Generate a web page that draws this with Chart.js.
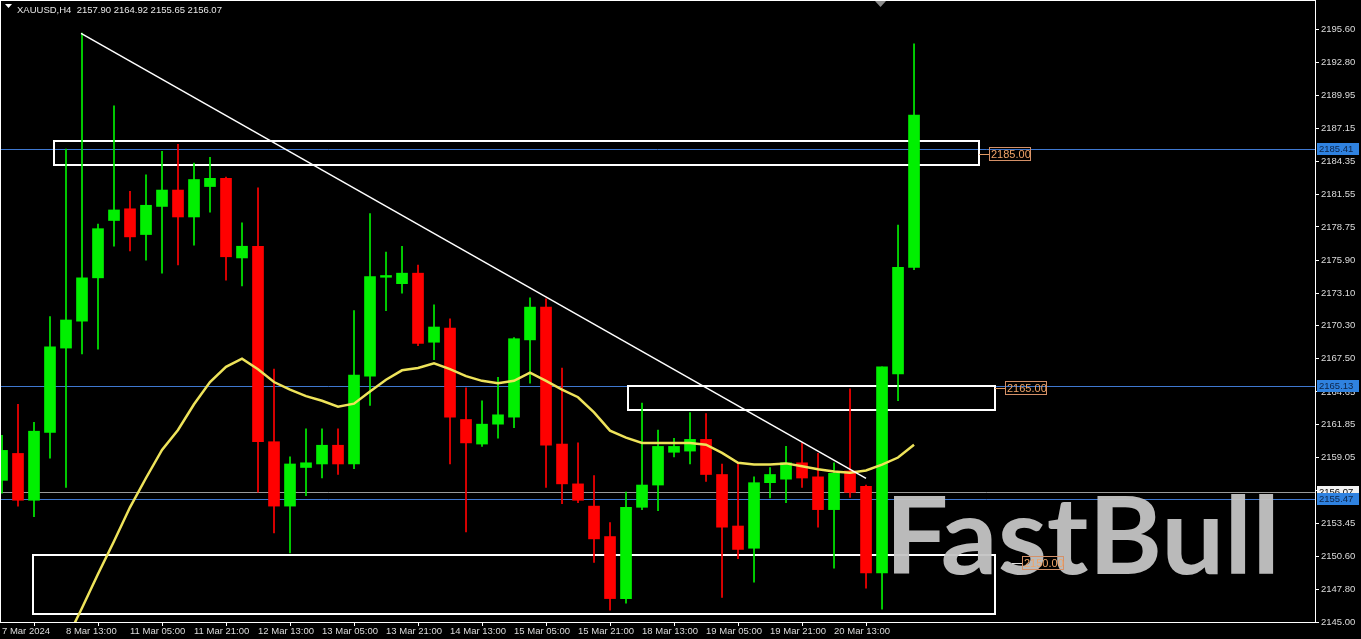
<!DOCTYPE html>
<html>
<head>
<meta charset="utf-8">
<script src="https://cdn.jsdelivr.net/npm/chart.js@4.4.1/dist/chart.umd.min.js"></script>
<style>
  html, body { margin: 0; padding: 0; background: #000; }
  canvas { display: block; }
</style>
</head>
<body>
<canvas id="myChart" width="1361" height="639"></canvas>
<script>
const ctx = document.getElementById('myChart').getContext('2d');

// XAUUSD H4 candles
const opens  = [2157.10,2159.40,2155.40,2161.20,2168.40,2170.70,2174.40,2179.30,2180.30,2178.10,
                2180.50,2181.90,2179.60,2182.20,2182.90,2176.10,2177.10,2160.40,2154.90,2158.20,
                2158.50,2160.10,2158.50,2166.00,2174.45,2173.90,2174.80,2168.90,2170.10,2162.30,
                2160.20,2161.90,2162.50,2169.10,2171.90,2160.20,2156.80,2154.90,2152.30,2147.00,
                2154.80,2156.70,2159.50,2159.60,2160.60,2157.60,2153.20,2151.30,2156.90,2157.20,
                2158.60,2157.40,2154.60,2157.90,2156.60,2149.20,2166.20,2175.30];
const highs  = [2160.95,2163.60,2162.05,2171.10,2185.40,2195.30,2179.00,2189.10,2181.80,2183.20,
                2185.20,2185.80,2184.20,2184.70,2183.00,2179.10,2182.10,2166.60,2159.10,2161.50,
                2161.50,2161.50,2171.60,2179.90,2176.60,2177.10,2175.50,2172.10,2170.90,2165.00,
                2163.90,2165.90,2169.30,2172.70,2172.60,2166.70,2160.30,2157.50,2153.50,2156.10,
                2163.70,2161.40,2160.70,2162.90,2162.80,2158.50,2158.60,2157.40,2158.20,2160.00,
                2160.30,2159.40,2158.60,2164.92,2156.70,2166.80,2178.90,2194.40];
const lows   = [2156.00,2154.90,2154.00,2159.00,2156.50,2167.90,2168.30,2177.10,2176.70,2175.90,
                2174.80,2175.50,2177.20,2180.00,2174.20,2173.70,2156.10,2152.60,2150.90,2155.80,
                2157.30,2157.60,2158.10,2163.50,2171.60,2173.10,2168.60,2167.40,2158.50,2152.70,
                2160.00,2160.70,2161.60,2165.40,2156.50,2155.10,2155.20,2150.10,2146.00,2146.60,
                2154.60,2154.50,2159.10,2158.50,2157.00,2147.10,2150.40,2148.40,2155.60,2155.20,
                2156.50,2153.10,2149.60,2155.65,2147.90,2146.10,2163.90,2175.10];
const closes = [2159.66,2155.40,2161.30,2168.50,2170.80,2174.40,2178.60,2180.20,2177.90,2180.60,
                2181.90,2179.60,2182.80,2182.90,2176.20,2177.10,2160.40,2154.90,2158.50,2158.60,
                2160.10,2158.50,2166.10,2174.50,2174.60,2174.80,2168.80,2170.20,2162.50,2160.30,
                2161.90,2162.70,2169.20,2171.90,2160.10,2156.80,2155.40,2152.10,2147.00,2154.80,
                2156.70,2160.00,2160.00,2160.60,2157.60,2153.10,2151.20,2156.90,2157.60,2158.60,
                2157.30,2154.60,2157.70,2156.07,2149.20,2166.80,2175.30,2188.30];

// yellow moving average (first bars are below the visible range)
const maValues = [null,null,null,null,2143.4,2146.2,2149.1,2151.9,2154.8,2157.3,
                  2159.7,2161.4,2163.6,2165.5,2166.8,2167.5,2166.6,2165.5,2164.85,2164.3,
                  2163.9,2163.4,2163.65,2164.7,2165.7,2166.5,2166.7,2167.1,2166.6,2166.0,
                  2165.6,2165.4,2165.6,2166.3,2165.6,2164.85,2164.2,2162.9,2161.35,2160.75,
                  2160.3,2160.3,2160.3,2160.3,2160.15,2159.45,2158.6,2158.45,2158.45,2158.55,
                  2158.3,2158.05,2157.85,2157.75,2157.95,2158.45,2159.05,2160.15];

// time axis: a label every 4 bars
const timeLabels = ['7 Mar 2024','8 Mar 13:00','11 Mar 05:00','11 Mar 21:00','12 Mar 13:00',
                    '13 Mar 05:00','13 Mar 21:00','14 Mar 13:00','15 Mar 05:00','15 Mar 21:00',
                    '18 Mar 13:00','19 Mar 05:00','19 Mar 21:00','20 Mar 13:00'];
const timeTicks = timeLabels.map((l, i) => i * 4);

const priceTicks = [2195.60,2192.80,2189.95,2187.15,2184.35,2181.55,2178.75,2175.90,2173.10,2170.30,
                    2167.50,2164.65,2161.85,2159.05,2156.25,2153.45,2150.60,2147.80,2145.00];

// drawn objects: trend line, zones, horizontal lines
const trendX = [4.94, 54.0];
const trendY = [2195.28, 2157.27];
const zoneStart = [3.25, 39.1, 1.94];
const zoneEnd   = [61.06, 62.06, 62.06];
const zoneHigh  = [2186.10, 2165.13, 2150.70];
const zoneLow   = [2184.05, 2163.15, 2145.65];
const zoneLabel = [2185.00, 2165.00, 2150.00];
const zoneLabelAt = [61.06, 62.06, 63.12];
const blueLines = [2185.41, 2165.13, 2155.47];
const lastLine = closes[53];

const symbol = 'XAUUSD,H4';

const up = '#00f000';
const down = '#ff0000';
const candleColors = opens.map((o, i) => closes[i] >= o ? up : down);

const idx = opens.map((o, i) => i);

const data = {
  datasets: [
    {
      type: 'line',
      label: 'trend',
      data: trendX.map((x, i) => ({ x, y: trendY[i] })),
      borderColor: '#ffffff',
      borderWidth: 1.5,
      pointRadius: 0,
      order: 1,
    },
    {
      type: 'line',
      label: 'MA',
      data: idx.map(i => ({ x: i, y: maValues[i] })),
      borderColor: '#eee35a',
      borderWidth: 2.5,
      pointRadius: 0,
      spanGaps: false,
      order: 2,
    },
    {
      type: 'bar',
      label: 'body',
      data: idx.map(i => ({ x: i, y: [opens[i], closes[i]] })),
      backgroundColor: candleColors,
      barThickness: 11,
      minBarLength: 1,
      grouped: false,
      borderWidth: 0,
      order: 3,
    },
    {
      type: 'bar',
      label: 'wick',
      data: idx.map(i => ({ x: i, y: [lows[i], highs[i]] })),
      backgroundColor: candleColors,
      barThickness: 1,
      grouped: false,
      borderWidth: 0,
      order: 4,
    },
  ],
};

function yPix(scale, v) { return Math.round(scale.getPixelForValue(v)); }

const overlay = {
  id: 'overlay',
  beforeDraw(chart) {
    const c = chart.ctx;
    c.save();
    c.fillStyle = '#000';
    c.fillRect(0, 0, chart.width, chart.height);
    c.restore();
  },
  beforeDatasetsDraw(chart) {
    const { ctx: c, chartArea: a, scales: { x, y } } = chart;
    c.save();
    c.beginPath();
    c.rect(a.left, a.top, a.right - a.left, a.bottom - a.top);
    c.clip();
    c.lineWidth = 1;
    c.strokeStyle = '#9a9a9a';
    let py = yPix(y, lastLine) + 0.5;
    c.beginPath(); c.moveTo(a.left, py); c.lineTo(a.right, py); c.stroke();
    c.strokeStyle = '#3f78d0';
    blueLines.forEach(v => {
      const p = yPix(y, v) + 0.5;
      c.beginPath(); c.moveTo(a.left, p); c.lineTo(a.right, p); c.stroke();
    });
    c.strokeStyle = '#ffffff';
    c.lineWidth = 2;
    zoneStart.forEach((s, i) => {
      const x0 = Math.round(x.getPixelForValue(s));
      const x1 = Math.round(x.getPixelForValue(zoneEnd[i]));
      const y0 = yPix(y, zoneHigh[i]);
      const y1 = yPix(y, zoneLow[i]);
      c.strokeRect(x0, y0, x1 - x0, y1 - y0);
    });
    c.restore();
  },
  afterDatasetsDraw(chart) {
    const { ctx: c, chartArea: a, scales: { x, y } } = chart;
    c.save();
    // watermark, fitted to a 395 x 78 box
    const wm = 'FastBull';
    const fam = 'Lato, "Liberation Sans", sans-serif';
    c.font = 'bold 100px ' + fam;
    const m = c.measureText(wm);
    const capH = c.measureText('F').actualBoundingBoxAscent || 72;
    const size = 100 * 77 / capH;
    c.font = 'bold ' + size.toFixed(1) + 'px ' + fam;
    const w = c.measureText(wm).width;
    c.translate(a.right - 430, a.bottom - 48);
    c.scale(395 / w, 1);
    c.fillStyle = 'rgba(196,196,196,0.95)';
    c.textBaseline = 'alphabetic';
    c.textAlign = 'left';
    c.fillText(wm, 0, 0);
    c.setTransform(1, 0, 0, 1, 0, 0);

    // zone price labels
    c.font = '11px "Liberation Sans", Arial, sans-serif';
    c.textBaseline = 'middle';
    zoneLabel.forEach((v, i) => {
      const px = Math.round(x.getPixelForValue(zoneLabelAt[i]));
      const p = yPix(y, v);
      c.strokeStyle = i === 2 ? '#e0e0e0' : '#e39a62';
      c.lineWidth = 1;
      c.beginPath(); c.moveTo(px, p + 0.5); c.lineTo(px + 10, p + 0.5); c.stroke();
      c.strokeStyle = '#d49068';
      c.strokeRect(px + 10.5, p - 6.5, 41, 13);
      c.fillStyle = '#f0a468';
      c.fillText(v.toFixed(2), px + 12, p + 1);
    });
    c.restore();
  },
  afterDraw(chart) {
    const { ctx: c, chartArea: a, scales: { y } } = chart;
    c.save();
    c.strokeStyle = '#ffffff';
    c.lineWidth = 1;
    c.strokeRect(a.left + 0.5, a.top - 0.5, a.right - a.left, a.bottom - a.top + 1);

    // price labels on the axis
    c.font = '9.5px "Liberation Sans", Arial, sans-serif';
    c.textBaseline = 'middle';
    c.textAlign = 'left';
    const boxes = [[lastLine, '#f2f2f2', '#000000'], [blueLines[1], '#2f82e0', '#0d2447'],
                   [blueLines[0], '#2f82e0', '#0d2447'], [blueLines[2], '#2f82e0', '#0d2447']];
    boxes.forEach(([v, bg, fg]) => {
      const p = yPix(y, v);
      c.fillStyle = bg;
      c.fillRect(a.right + 2, p - 6, 42, 12);
      c.fillStyle = fg;
      c.fillText(v.toFixed(2), a.right + 4, p + 0.5);
    });

    // header
    c.fillStyle = '#ffffff';
    c.beginPath(); c.moveTo(5, 4); c.lineTo(12, 4); c.lineTo(8.5, 8); c.closePath(); c.fill();
    c.fillStyle = '#e6e6e6';
    c.font = '9.5px "Liberation Sans", Arial, sans-serif';
    c.textBaseline = 'alphabetic';
    const hdr = symbol + '  ' + [opens[53], highs[53], lows[53], closes[53]].map(v => v.toFixed(2)).join(' ');
    c.fillText(hdr, 17, 13);

    // chart shift marker
    c.fillStyle = '#8c8c8c';
    c.beginPath(); c.moveTo(875, 1); c.lineTo(886, 1); c.lineTo(880.5, 7); c.closePath(); c.fill();
    c.restore();
  },
};

const axisFont = { family: '"Liberation Sans", Arial, sans-serif', size: 9.5 };

const config = {
  type: 'bar',
  data: data,
  options: {
    responsive: false,
    animation: false,
    devicePixelRatio: 1,
    layout: { padding: { top: 1, left: 0, right: 0, bottom: 0 } },
    plugins: { legend: { display: false }, tooltip: { enabled: false } },
    scales: {
      x: {
        type: 'linear',
        min: -0.125,
        max: 82.06,
        offset: false,
        afterBuildTicks: (s) => { s.ticks = timeTicks.map(v => ({ value: v })); },
        afterFit: (s) => { s.height = 17; s.paddingLeft = 0; s.paddingRight = 0; },
        ticks: {
          autoSkip: false,
          maxRotation: 0,
          align: 'start',
          color: '#dcdcdc',
          font: axisFont,
          padding: 0,
          callback: (v, i) => timeLabels[i],
        },
        grid: { drawOnChartArea: false, drawTicks: true, tickLength: 4, color: '#ffffff' },
        border: { display: true, color: '#ffffff' },
      },
      y: {
        position: 'right',
        min: 2145.0,
        max: 2198.05,
        afterBuildTicks: (s) => { s.ticks = priceTicks.map(v => ({ value: v })); },
        afterFit: (s) => { s.width = 46; s.paddingTop = 0; s.paddingBottom = 0; },
        ticks: {
          color: '#dcdcdc',
          font: axisFont,
          padding: 2,
          callback: (v) => Number(v).toFixed(2),
        },
        grid: { drawOnChartArea: false, drawTicks: true, tickLength: 4, color: '#ffffff' },
        border: { display: true, color: '#ffffff' },
      },
    },
  },
  plugins: [overlay],
};

const myChart = new Chart(ctx, config);
</script>
</body>
</html>
